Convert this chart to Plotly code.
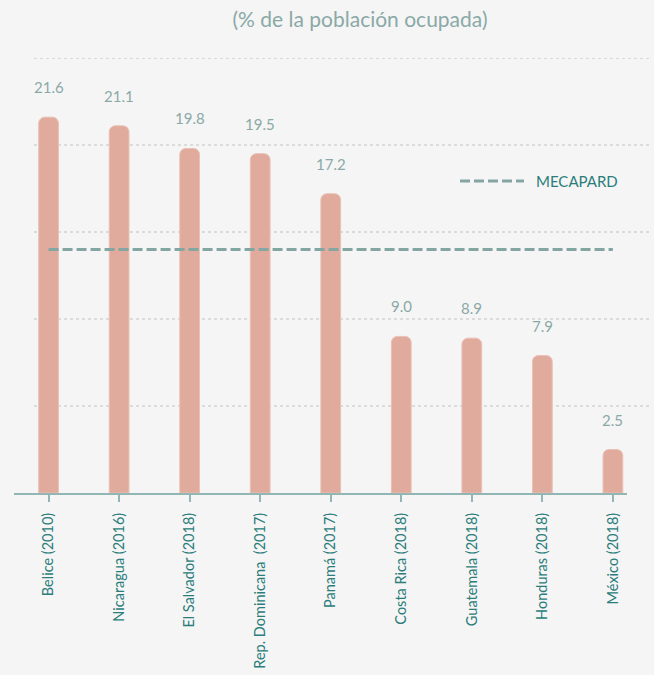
import plotly.graph_objects as go

categories = ["Belice (2010)", "Nicaragua (2016)", "El Salvador (2018)",
              "Rep. Dominicana  (2017)", "Panamá (2017)", "Costa Rica (2018)",
              "Guatemala (2018)", "Honduras (2018)", "México (2018)"]
values = [21.6, 21.1, 19.8, 19.5, 17.2, 9.0, 8.9, 7.9, 2.5]
mecapard = 14.0
grid_ticks = [5, 10, 15, 20, 25]
title_text = "(% de la población ocupada)"
legend_text = "MECAPARD"

BG = "#f5f5f5"
BAR = "#e0ab9c"
TEAL = "#2b7d7b"
SOFT = "#8aa9a6"
AXIS = "#92b6b3"
DASH = "#84a6a2"

fig = go.Figure()
fig.add_trace(go.Bar(
    x=categories, y=values, width=0.28,
    marker=dict(color=BAR, line=dict(color="#e9c0b4", width=1)),
    showlegend=False, hoverinfo="x+y",
))
fig.add_trace(go.Scatter(
    x=categories, y=[mecapard] * len(categories), mode="lines",
    line=dict(color=DASH, width=3, dash="10px,4px"),
    showlegend=False, name=legend_text,
))

for c, v in zip(categories, values):
    fig.add_annotation(x=c, y=v, text=f"{v:.1f}", showarrow=False,
                       yshift=30, font=dict(family="Lato", size=15, color=SOFT))

x0p = (34 - 14) / 613
x1p = (652 - 14) / 613
for g in grid_ticks:
    fig.add_shape(type="line", xref="paper", yref="y", x0=x0p, x1=x1p, y0=g, y1=g,
                  line=dict(color="#bfc3c3", width=1, dash="dot"), layer="below")

# manual legend
fig.add_shape(type="line", xref="paper", yref="paper",
              x0=(460 - 14) / 613, x1=(524 - 14) / 613,
              y0=(493 - 181) / 435, y1=(493 - 181) / 435,
              line=dict(color=DASH, width=3, dash="10px,4px"))
fig.add_annotation(xref="paper", yref="paper", x=(534 - 14) / 613, y=(493 - 181) / 435,
                   text=legend_text, showarrow=False, xanchor="left", yanchor="middle",
                   font=dict(family="Lato", size=15, color=TEAL))

fig.update_layout(
    width=654, height=675, autosize=False,
    paper_bgcolor=BG, plot_bgcolor=BG,
    margin=dict(l=14, r=27, t=58, b=182),
    barcornerradius=6,
    title=dict(text=title_text, x=(360 - 14) / 613, xref="paper", xanchor="center",
               y=1 - 20 / 675, yanchor="middle",
               font=dict(family="Lato", size=21, color=SOFT)),
    xaxis=dict(type="category", range=[-0.49, 8.2], showline=True, linecolor=AXIS,
               linewidth=2, ticks="outside", ticklen=7, tickwidth=2, tickcolor=AXIS,
               tickangle=-90, showgrid=False, automargin=False,
               ticklabelstandoff=5,
               tickvals=categories,
               ticktext=[c.replace("  ", "\u00a0 ") for c in categories],
               tickfont=dict(family="Lato", size=14.5, color=TEAL)),
    yaxis=dict(range=[0, 25], showgrid=False, zeroline=False, showticklabels=False,
               tickvals=grid_ticks, automargin=False),
)

fig.write_html("out.html", config={"displayModeBar": False},
               post_script="document.body.style.margin='0';document.body.style.background='%s';" % BG)
